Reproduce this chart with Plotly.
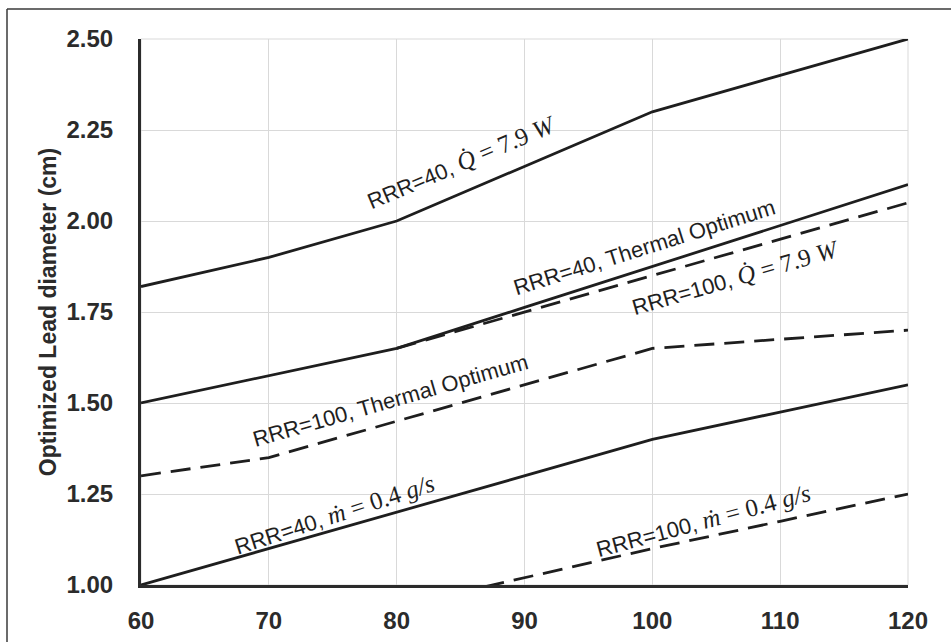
import plotly.graph_objects as go

# ---- data ----
x_vals = [60, 70, 80, 90, 100, 110, 120]
rrr40_q79 = [1.82, 1.90, 2.00, 2.15, 2.30, 2.40, 2.50]
rrr40_thermal = [1.50, 1.575, 1.65, 1.7625, 1.875, 1.9875, 2.10]
rrr100_q79_x = [80, 90, 100, 110, 120]
rrr100_q79 = [1.65, 1.75, 1.85, 1.95, 2.05]
rrr100_thermal = [1.30, 1.35, 1.45, 1.55, 1.65, 1.675, 1.70]
rrr40_m04 = [1.00, 1.10, 1.20, 1.30, 1.40, 1.475, 1.55]
rrr100_m04_x = [80, 90, 100, 110, 120]
rrr100_m04 = [0.94, 1.02, 1.10, 1.175, 1.25]

x_ticks = [60, 70, 80, 90, 100, 110, 120]
y_ticks = [1.00, 1.25, 1.50, 1.75, 2.00, 2.25, 2.50]
y_title = "Optimized Lead diameter (cm)"

LINE = "#1e1e1e"
DASH = "20px,10px"
SANS = "Liberation Sans Narrow, Liberation Sans, Arial, sans-serif"
SERIF = "Liberation Serif, DejaVu Serif, serif"
AXFONT = "Liberation Sans, Arial, sans-serif"

fig = go.Figure()
series = [
    (x_vals, rrr40_q79, "solid"),
    (x_vals, rrr40_thermal, "solid"),
    (rrr100_q79_x, rrr100_q79, DASH),
    (x_vals, rrr100_thermal, DASH),
    (x_vals, rrr40_m04, "solid"),
    (rrr100_m04_x, rrr100_m04, DASH),
]
for xs, ys, dash in series:
    fig.add_trace(go.Scatter(x=xs, y=ys, mode="lines",
                             line=dict(color=LINE, width=2.8, dash=dash),
                             showlegend=False, hoverinfo="skip"))

def m(s):
    return f"<span style='font-family:{SERIF};font-size:25px'>{s}</span>"

labels = [
    ("RRR=40, " + m("<i>Q\u0307</i> = 7.9 <i>W</i>"), 85.0, 2.162, -23),
    ("RRR=40, Thermal Optimum", 99.36, 1.926, -17.5),
    ("RRR=100, " + m("<i>Q\u0307</i> = 7.9 <i>W</i>"), 106.5, 1.846, -16),
    ("RRR=100, Thermal Optimum", 79.5, 1.506, -16),
    ("RRR=40, " + m("<i>\u1e41</i> = 0.4 <i>g/s</i>"), 75.1, 1.195, -18),
    ("RRR=100, " + m("<i>\u1e41</i> = 0.4 <i>g/s</i>"), 104.0, 1.176, -15),
]
for txt, ax, ay, ang in labels:
    fig.add_annotation(x=ax, y=ay, xref="x", yref="y", text=txt, showarrow=False,
                       textangle=ang, xanchor="center", yanchor="middle",
                       font=dict(family=SANS, size=22, color="#1f1f1f"))

fig.update_layout(
    width=951, height=642,
    margin=dict(l=141, r=43, t=39, b=57),
    paper_bgcolor="white", plot_bgcolor="white",
    xaxis=dict(range=[60, 120], tickvals=x_ticks, ticktext=[str(v) for v in x_ticks],
               showgrid=True, gridcolor="#d9d9d9", gridwidth=1,
               showline=True, linecolor="#2b2b2b", linewidth=3, mirror=False,
               zeroline=False, ticks="", ticklen=0, ticklabelstandoff=12,
               automargin=False,
               tickfont=dict(family=AXFONT, size=24, color="#2b2b2b", weight="bold")),
    yaxis=dict(range=[1.0, 2.5], tickvals=y_ticks, ticktext=[f"{v:.2f}" for v in y_ticks],
               showgrid=True, gridcolor="#d9d9d9", gridwidth=1,
               showline=True, linecolor="#2b2b2b", linewidth=3,
               zeroline=False, ticks="", ticklen=0, ticklabelstandoff=20,
               automargin=False,
               title=dict(text=y_title, standoff=4,
                          font=dict(family=AXFONT, size=23, color="#2b2b2b", weight="bold")),
               tickfont=dict(family=AXFONT, size=24, color="#2b2b2b", weight="bold")),
)
# light border on top and right of plot area
fig.add_shape(type="rect", xref="paper", yref="paper", x0=0, x1=1, y0=0, y1=1,
              line=dict(color="#d9d9d9", width=1), layer="below")
# outer frame: top and left edges visible in the reference
fig.add_shape(type="line", xref="paper", yref="paper", x0=-134/767, x1=(951-141)/767,
              y0=(642-57-9)/546, y1=(642-57-9)/546, line=dict(color="#3a3a3a", width=1.5))
fig.add_shape(type="line", xref="paper", yref="paper", x0=-134/767, x1=-134/767,
              y0=-57/546, y1=(642-57-9)/546, line=dict(color="#3a3a3a", width=1.5))

fig.write_html("out.html")
